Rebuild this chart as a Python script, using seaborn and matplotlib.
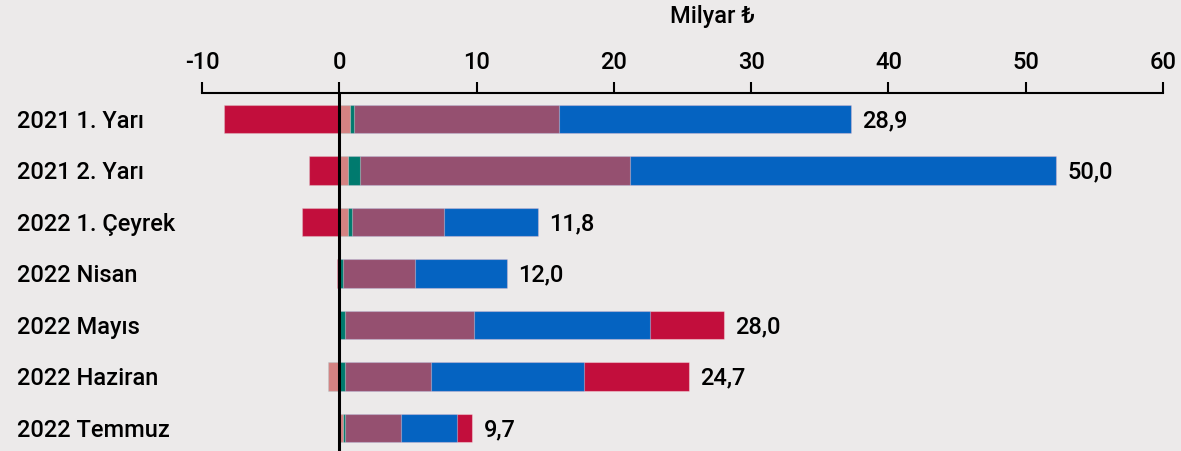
import pandas as pd
import numpy as np
import matplotlib.pyplot as plt
import seaborn as sns

sns.set_theme(style="white")
plt.rcParams["font.family"] = ["Roboto", "DejaVu Sans"]
plt.rcParams["axes.unicode_minus"] = False

BG = "#ECEAEA"

# Veriler (Milyar TL)
donemler = ["2021 1. Yarı", "2021 2. Yarı", "2022 1. Çeyrek", "2022 Nisan",
            "2022 Mayıs", "2022 Haziran", "2022 Temmuz"]
seri_kirmizi = [-8.4, -2.2, -2.7, -0.2, 5.4, 7.7, 1.1]
seri_somon = [0.8, 0.6, 0.6, 0.0, 0.0, -0.8, 0.3]
seri_yesil = [0.3, 0.9, 0.3, 0.3, 0.4, 0.4, 0.1]
seri_mor = [14.9, 19.7, 6.7, 5.2, 9.4, 6.3, 4.1]
seri_mavi = [21.3, 31.0, 6.9, 6.7, 12.8, 11.1, 4.1]
x_ticks = [-10, 0, 10, 20, 30, 40, 50, 60]

# pozitif istif sırası: somon, yeşil, mor, mavi, kırmızı
seriler = {
    "somon": (seri_somon, "#D48282"),
    "yesil": (seri_yesil, "#007A6E"),
    "mor": (seri_mor, "#955070"),
    "mavi": (seri_mavi, "#0563C1"),
    "kirmizi": (seri_kirmizi, "#C20E3C"),
}

df = pd.DataFrame({k: v for k, (v, _) in seriler.items()}, index=donemler)
pos = df.clip(lower=0).cumsum(axis=1)
neg_order = ["kirmizi", "somon", "yesil", "mor", "mavi"]
neg = df[neg_order].clip(upper=0).cumsum(axis=1)
toplam = df.sum(axis=1)

FS = 17

fig = plt.figure(figsize=(11.81, 4.51), dpi=100, facecolor=BG)
ax = fig.add_axes([202 / 1181, 0, (1163 - 202) / 1181, 1 - 93 / 451])
ax.set_facecolor(BG)

edge = (1, 1, 1, 0.35)
# katmanlı çizim: en uzun kümülatif önce
for name in reversed(list(seriler.keys())):
    color = seriler[name][1]
    d = pd.DataFrame({"donem": donemler, "deger": pos[name].values})
    sns.barplot(data=d, x="deger", y="donem", orient="h", color=color,
                width=0.55, edgecolor=edge, linewidth=0.8, ax=ax,
                errorbar=None, saturation=1)
for name in reversed(neg_order):
    color = seriler[name][1]
    d = pd.DataFrame({"donem": donemler, "deger": neg[name].values})
    sns.barplot(data=d, x="deger", y="donem", orient="h", color=color,
                width=0.55, edgecolor=edge, linewidth=0.8, ax=ax,
                errorbar=None, saturation=1)

# sıfır çizgisi
ax.axvline(0, color="black", lw=2.2, zorder=5)

# toplam etiketleri
for i, (p, t) in enumerate(zip(pos["kirmizi"].values, toplam.values)):
    ax.annotate(f"{t:.1f}".replace(".", ","), (p, i + 0.03), xytext=(8, 0),
                textcoords="offset points", va="center", ha="left",
                fontsize=FS, fontweight="medium", color="black")

ax.set_xlim(-10, 60)
ax.set_ylim(6.45, -0.505)
ax.set_xticks(x_ticks)
ax.xaxis.tick_top()
ax.tick_params(axis="x", direction="out", length=8, width=1.5, color="black",
               labelsize=FS, pad=6, labelcolor="black")
for lab in ax.get_xticklabels():
    lab.set_fontweight("medium")
ax.tick_params(axis="y", length=0, pad=133, labelsize=FS, labelcolor="black")
for lab in ax.get_yticklabels():
    lab.set_ha("left")
    lab.set_fontweight("medium")
ax.set_xlabel("")
ax.set_ylabel("")
for s in ["left", "right", "bottom"]:
    ax.spines[s].set_visible(False)
ax.spines["top"].set_color("black")
ax.spines["top"].set_linewidth(1.5)

fig.text(712 / 1181, 1 - 17 / 451, "Milyar ₺", ha="center", va="center",
         fontsize=FS, fontweight="medium", color="black")

fig.savefig("out.png", dpi=100, facecolor=BG)
